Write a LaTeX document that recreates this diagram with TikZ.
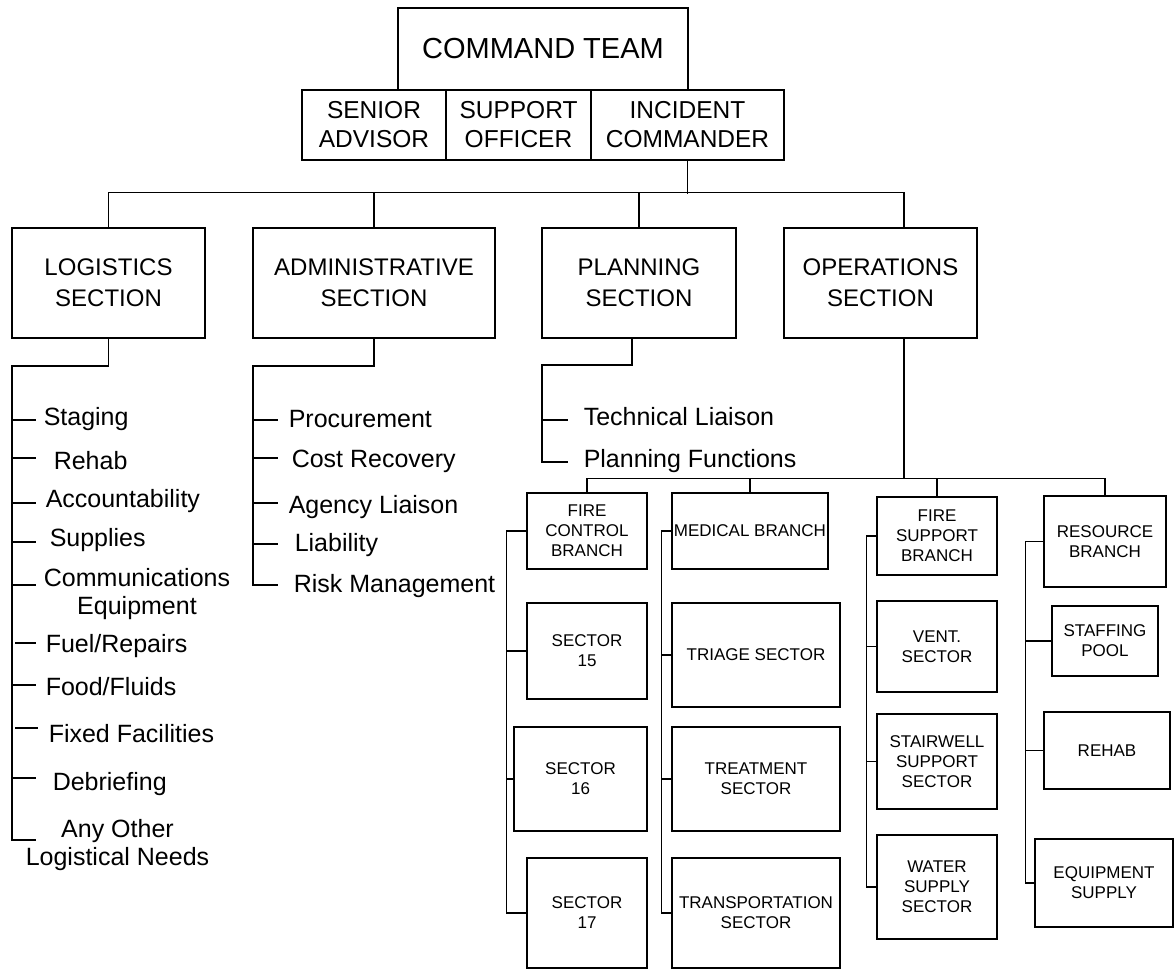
\documentclass[tikz,border=0pt]{standalone}
\usepackage{fontspec}
\setmainfont{Liberation Sans}
\begin{document}
\begin{tikzpicture}[x=1pt,y=-1pt,line width=1.5pt,
  box/.style={draw,rectangle,inner sep=0pt,align=center},
  big/.style={box,font=\fontsize{24.5}{29}\selectfont},
  sect/.style={box,font=\fontsize{24}{31}\selectfont},
  small/.style={box,font=\fontsize{17}{20}\selectfont},
  item/.style={anchor=base west,inner sep=0pt,font=\fontsize{25}{30}\selectfont},
  citem/.style={anchor=base,inner sep=0pt,font=\fontsize{25}{28}\selectfont}]
\useasboundingbox (0,0) rectangle (1175,972);
% top
\node[box,font=\fontsize{29}{34}\selectfont,minimum width=290pt,minimum height=82pt] (cmd) at (543,49) {COMMAND TEAM};
\node[big,minimum width=144pt,minimum height=70pt] (sen) at (374,125) {SENIOR\\ADVISOR};
\node[big,minimum width=145pt,minimum height=70pt] (sup) at (518.5,125) {SUPPORT\\OFFICER};
\node[big,minimum width=193pt,minimum height=70pt] (inc) at (687.5,125) {INCIDENT\\COMMANDER};
% sections
\node[sect,minimum width=193pt,minimum height=110pt] (log) at (108.5,283) {LOGISTICS\\SECTION};
\node[sect,minimum width=242pt,minimum height=110pt] (adm) at (374,283) {ADMINISTRATIVE\\SECTION};
\node[sect,minimum width=194pt,minimum height=110pt] (pla) at (639,283) {PLANNING\\SECTION};
\node[sect,minimum width=193pt,minimum height=110pt] (ops) at (880.5,283) {OPERATIONS\\SECTION};
\coordinate (opsT) at (904,228);
\coordinate (opsB) at (904,338);
\coordinate (bus2) at (904,479);
\draw (inc.south) -- ++(0,33);
\draw (log.north) -- ++(0,-35) -| (opsT);
\draw (adm.north) -- ++(0,-35);
\draw (pla.north) -- ++(0,-35);
% logistics list
\coordinate (logE) at (12,840);
\draw (log.south) -- ++(0,27) -| (logE) -- ++(24,0);
\draw (12,420) -- (36,420);
\draw (12,458) -- (36,458);
\draw (12,503) -- (36,503);
\draw (12,542) -- (36,542);
\draw (12,585) -- (36,585);
\draw (15,643) -- (36,643);
\draw (12,685) -- (36,685);
\draw (15,728) -- (38,728);
\draw (12,778) -- (36,778);
\node[item] (l1) at (43,425) {Staging};
\node[item] (l2) at (53,469) {Rehab};
\node[item] (l3) at (45,507) {Accountability};
\node[item] (l4) at (49,546) {Supplies};
\node[citem,align=center] (l5) at (137,614) {Communications\\Equipment};
\node[item] (l6) at (45,652) {Fuel/Repairs};
\node[item] (l7) at (45,695) {Food/Fluids};
\node[item] (l8) at (48,742) {Fixed Facilities};
\node[item] (l9) at (52,790) {Debriefing};
\node[citem,align=center] (l10) at (117.5,865) {Any Other\\Logistical Needs};
% admin list
\coordinate (admE) at (253,585);
\draw (adm.south) -- ++(0,27) -| (admE) -- ++(25,0);
\draw (253,420) -- (278,420);
\draw (253,458) -- (278,458);
\draw (253,503) -- (278,503);
\draw (253,544) -- (278,544);
\node[item] (a1) at (288,427) {Procurement};
\node[item] (a2) at (291,467) {Cost Recovery};
\node[item] (a3) at (288,513) {Agency Liaison};
\node[item] (a4) at (294,551) {Liability};
\node[item] (a5) at (293,592) {Risk Management};
% planning list
\coordinate (plaB) at (632,338);
\coordinate (plaE) at (542,462);
\draw (plaB) -- ++(0,27) -| (plaE) -- ++(26,0);
\draw (542,420) -- (568,420);
\node[item] (p1) at (583,425) {Technical Liaison};
\node[item] (p2) at (583,467) {Planning Functions};
% operations branches
\node[small,minimum width=120pt,minimum height=76pt] (fcb) at (587,531) {FIRE\\CONTROL\\BRANCH};
\node[small,minimum width=120pt,minimum height=96pt] (s15) at (587,651) {SECTOR\\15};
\node[small,minimum width=133pt,minimum height=104pt] (s16) at (580.5,779) {SECTOR\\16};
\node[small,minimum width=120pt,minimum height=110pt] (s17) at (587,913) {SECTOR\\17};
\node[small,minimum width=156pt,minimum height=76pt] (med) at (750,531) {MEDICAL BRANCH};
\node[small,minimum width=168pt,minimum height=104pt] (tri) at (756,655) {TRIAGE SECTOR};
\node[small,minimum width=168pt,minimum height=104pt] (tre) at (756,779) {TREATMENT\\SECTOR};
\node[small,minimum width=168pt,minimum height=110pt] (tra) at (756,913) {TRANSPORTATION\\SECTOR};
\node[small,minimum width=120pt,minimum height=78pt] (fsb) at (937,536) {FIRE\\SUPPORT\\BRANCH};
\node[small,minimum width=120pt,minimum height=91pt] (ven) at (937,646.5) {VENT.\\SECTOR};
\node[small,minimum width=120pt,minimum height=95pt] (sta) at (937,761.5) {STAIRWELL\\SUPPORT\\SECTOR};
\node[small,minimum width=120pt,minimum height=104pt] (wat) at (937,887) {WATER\\SUPPLY\\SECTOR};
\node[small,minimum width=122pt,minimum height=91pt] (res) at (1105,541.5) {RESOURCE\\BRANCH};
\node[small,minimum width=106pt,minimum height=70pt] (stf) at (1105,641) {STAFFING\\POOL};
\node[small,minimum width=126pt,minimum height=77pt] (reh) at (1107,750.5) {REHAB};
\node[small,minimum width=138pt,minimum height=88pt] (equ) at (1104,883) {EQUIPMENT\\SUPPLY};
\draw (opsB) -- (bus2);
\draw (fcb.north) -- ++(0,-14) -| (res.north);
\draw (med.north) -- ++(0,-14);
\draw (fsb.north) -- ++(0,-18);
\draw (fcb.west) -- ++(-20,0) |- (s17.west);
\draw (s15.west) -- ++(-20,0);
\draw (s16.west) -- ++(-7,0);
\draw (med.west) -- ++(-10,0) |- (tra.west);
\draw (tri.west) -- ++(-10,0);
\draw (tre.west) -- ++(-10,0);
\draw (fsb.west) -- ++(-10,0) |- (wat.west);
\draw (ven.west) -- ++(-10,0);
\draw (sta.west) -- ++(-10,0);
\draw (res.west) -- ++(-18,0) |- (equ.west);
\draw (stf.west) -- ++(-26,0);
\draw (reh.west) -- ++(-18,0);
\end{tikzpicture}
\end{document}
